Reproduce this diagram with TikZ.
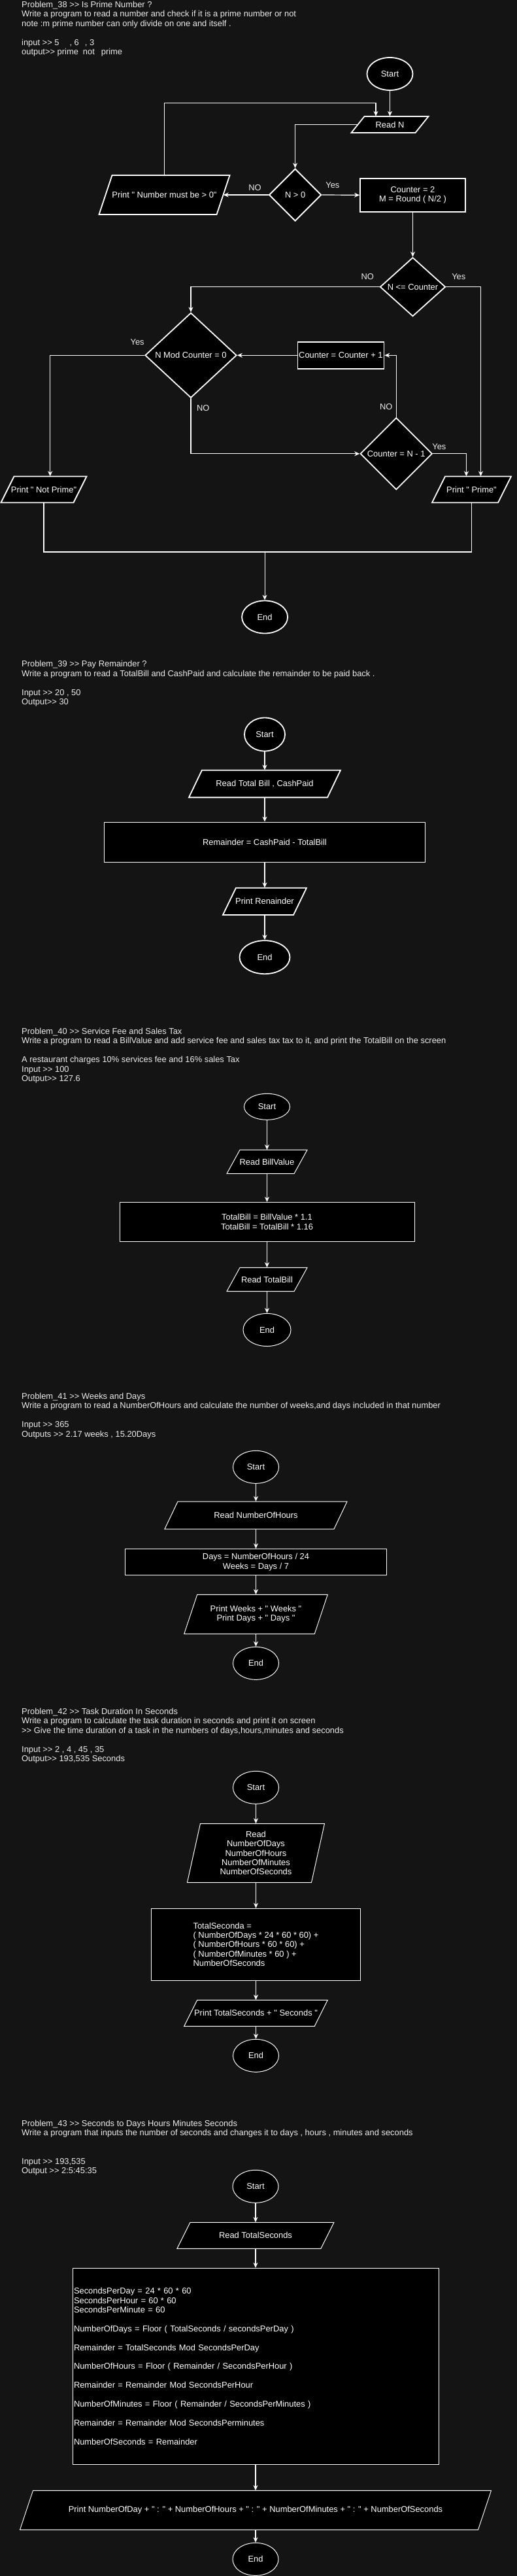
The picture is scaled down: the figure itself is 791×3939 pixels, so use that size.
\documentclass[tikz,border=0pt]{standalone}
\usepackage{fontspec}
\setmainfont{Liberation Sans}[Ligatures=TeXOff]
\usetikzlibrary{shapes.geometric,arrows.meta}

\definecolor{canvas}{RGB}{20,20,20}
\definecolor{ink}{RGB}{236,236,236}

\tikzset{
  outline/.style={line width=1pt},
  term/.style={ellipse, draw=white, fill=black, outline, inner sep=0, text=white},
  proc/.style={rectangle, draw=white, fill=black, outline, inner sep=0, align=center, text=white},
  decision/.style={diamond, draw=white, fill=black, outline, inner sep=0, align=center, text=white},
  iotext/.style={rectangle, inner sep=0, align=center, text=white},
  flow/.style={draw=white, line width=1.2pt, -{Stealth[length=8pt,width=7pt]}},
  link/.style={draw=white, line width=1.2pt},
  lbl/.style={inner sep=0, text=ink},
  note/.style={anchor=north west, inner sep=0, align=left, text=ink}
}

% parallelogram: name, centre x, centre y, width, height, text
\newcommand{\iobox}[6]{%
  \draw[outline, draw=white, fill=black] ({#2-#4/2},{#3+#5/2}) -- ({#2+#4/2-20},{#3+#5/2})
    -- ({#2+#4/2},{#3-#5/2}) -- ({#2-#4/2+20},{#3-#5/2}) -- cycle;
  \node[iotext, minimum width=#4-20, minimum height=#5] (#1) at (#2,#3) {#6};
}

\begin{document}
\begin{tikzpicture}[x=1pt, y=-1pt, every node/.style={font=\fontsize{12.9}{14.4}\selectfont}]
\useasboundingbox (0,0) rectangle (791,3939);
\fill[canvas] (0,0) rectangle (791,3939);

% Problem 38
\begin{scope}[outline/.style={line width=1.8pt}]
\node[note] (txt38) at (33,2) {Problem\_38 >> Is Prime Number ?\\
  Write a program to read a number and check if it is a prime number or not\\
  note :m prime number can only divide on one and itself .\\[14.4pt]
  input >> 5\hspace{16pt}, 6\hspace{9pt}, 3\\
  output>> prime\hspace{7pt}not\hspace{10pt}prime};
\node[term, minimum width=70, minimum height=50] (start38) at (596.5,113) {Start};
\iobox{read38}{596.5}{190.5}{118}{25}{Read N}
\node[decision, minimum width=80, minimum height=80] (chk38) at (451.6,298) {N > 0};
\iobox{err38}{251.5}{298}{200}{60}{Print " Number must be > 0"}
\node[proc, minimum width=161, minimum height=51] (init38) at (631.5,298.3) {Counter = 2\\M = Round ( N/2 )};
\node[decision, minimum width=100, minimum height=90] (loop38) at (631.5,438.7) {N <= Counter};
\node[decision, minimum width=140, minimum height=130] (mod38) at (292,543.3) {N Mod Counter = 0};
\node[proc, minimum width=132, minimum height=41] (inc38) at (521.4,543.3) {Counter = Counter + 1};
\node[decision, minimum width=110, minimum height=110] (last38) at (606.2,693.8) {Counter = N - 1};
\iobox{notp38}{67}{748.5}{131}{40}{Print " Not Prime"}
\iobox{prime38}{721.5}{748.5}{121}{40}{Print " Prime"}
\node[term, minimum width=70, minimum height=50] (end38) at (405.1,943.5) {End};
\coordinate (join38) at (405.1,844);
\end{scope}

\draw[flow] (start38.south) -- (read38.north);
\draw[flow] (read38.west) -| (chk38.north);
\draw[flow] (chk38.west) -- (err38.east);
\draw[flow] (err38.north) -- ++(0,-110) -| ([xshift=-21.5pt]read38.north);
\draw[flow] (chk38.east) -- (init38.west);
\draw[flow] (init38.south) -- (loop38.north);
\draw[flow] (loop38.west) -| (mod38.north);
\draw[flow] (loop38.east) -| ([xshift=14pt]prime38.north);
\draw[flow] (mod38.west) -| ([xshift=9.7pt]notp38.north);
\draw[flow] (mod38.south) |- (last38.west);
\draw[flow] (inc38.west) -- (mod38.east);
\draw[flow] (last38.north) |- (inc38.east);
\draw[flow] (last38.east) -| ([xshift=-8pt]prime38.north);
\draw[link] (notp38.south) |- (join38);
\draw[link] (prime38.south) |- (join38);
\draw[flow] (join38) -- (end38.north);

\node[lbl] (no38a) at ([shift={(-20.6,-10.7)}]chk38.west) {NO};
\node[lbl] (yes38a) at ([shift={(16.4,-15.3)}]chk38.east) {Yes};
\node[lbl] (no38b) at ([shift={(-18.4,-16)}]loop38.west) {NO};
\node[lbl] (yes38b) at ([shift={(19.4,-16)}]loop38.east) {Yes};
\node[lbl] (yes38c) at ([shift={(-11,-20.6)}]mod38.west) {Yes};
\node[lbl] (no38c) at ([shift={(18.8,14.4)}]mod38.south) {NO};
\node[lbl] (no38d) at ([shift={(-15.4,-15.6)}]last38.north) {NO};
\node[lbl] (yes38d) at ([shift={(9.8,-11.1)}]last38.east) {Yes};

% Problem 39
\begin{scope}[outline/.style={line width=1.8pt}]
\node[note] (txt39) at (33,1010.3) {Problem\_39 >> Pay Remainder ?\\
  Write a program to read a TotalBill and CashPaid and calculate the remainder to be paid back .\\[14.4pt]
  Input >> 20 , 50\\
  Output>> 30};
\node[term, minimum width=62, minimum height=51] (start39) at (405,1123) {Start};
\iobox{read39}{405}{1198.5}{232}{41.7}{Read Total Bill , CashPaid}
\node[proc, minimum width=491, minimum height=61] (calc39) at (405,1288) {Remainder = CashPaid - TotalBill};
\iobox{print39}{405}{1378.3}{128}{41.3}{Print Renainder}
\node[term, minimum width=77, minimum height=51] (end39) at (405,1463.7) {End};
\end{scope}

\draw[flow] (start39.south) -- (read39.north);
\draw[flow] (read39.south) -- (calc39.north);
\draw[flow] (calc39.south) -- (print39.north);
\draw[flow] (print39.south) -- (end39.north);

% Problem 40
\node[note] (txt40) at (33,1572) {Problem\_40 >> Service Fee and Sales Tax\\
  Write a program to read a BillValue and add service fee and sales tax tax to it, and print the TotalBill on the screen\\[14.4pt]
  A restaurant charges 10\% services fee and 16\% sales Tax\\
  Input >> 100\\
  Output>> 127.6};
\node[term, minimum width=70, minimum height=40] (start40) at (408.5,1692.3) {Start};
\iobox{read40}{408.5}{1776.5}{123}{36.3}{Read BillValue}
\node[proc, minimum width=451, minimum height=60] (calc40) at (408.5,1868.5) {TotalBill = BillValue * 1.1\\TotalBill = TotalBill * 1.16};
\iobox{out40}{408.5}{1956.5}{123}{36.3}{Read TotalBill}
\node[term, minimum width=73, minimum height=50] (end40) at (408.5,2033.5) {End};

\draw[flow] (start40.south) -- (read40.north);
\draw[flow] (read40.south) -- (calc40.north);
\draw[flow] (calc40.south) -- (out40.north);
\draw[flow] (out40.south) -- (end40.north);

% Problem 41
\node[note] (txt41) at (33,2130) {Problem\_41 >> Weeks and Days\\
  Write a program to read a NumberOfHours and calculate the number of weeks,and days included in that number\\[14.4pt]
  Input >> 365\\
  Outputs >> 2.17 weeks , 15.20Days};
\node[term, minimum width=70, minimum height=50] (start41) at (391.5,2243.3) {Start};
\iobox{read41}{391.5}{2317}{279}{42}{Read NumberOfHours}
\node[proc, minimum width=400, minimum height=40] (calc41) at (391.5,2388.5) {Days = NumberOfHours / 24\\Weeks = Days / 7};
\iobox{print41}{391.5}{2468.3}{219.5}{60}{Print Weeks + " Weeks "\\Print Days + " Days "}
\node[term, minimum width=70, minimum height=50] (end41) at (391.5,2543.3) {End};

\draw[flow] (start41.south) -- (read41.north);
\draw[flow] (read41.south) -- (calc41.north);
\draw[flow] (calc41.south) -- (print41.north);
\draw[flow] (print41.south) -- (end41.north);

% Problem 42
\node[note] (txt42) at (33,2612) {Problem\_42 >> Task Duration In Seconds\\
  Write a program to calculate the task duration in seconds and print it on screen\\
  >> Give the time duration of a task in the numbers of days,hours,minutes and seconds\\[14.4pt]
  Input >> 2 , 4 , 45 , 35\\
  Output>> 193,535 Seconds};
\node[term, minimum width=70, minimum height=50] (start42) at (391.5,2733.3) {Start};
\iobox{read42}{391.5}{2833.5}{210}{90}{Read\\NumberOfDays\\NumberOfHours\\NumberOfMinutes\\NumberOfSeconds}
\node[proc, align=left, minimum width=320, minimum height=110] (calc42) at (391.5,2973.3) {TotalSeconda =\\( NumberOfDays * 24 * 60 * 60) +\\( NumberOfHours * 60 * 60) +\\( NumberOfMinutes * 60 ) +\\NumberOfSeconds};
\iobox{print42}{391.5}{3078.3}{219.5}{40}{Print TotalSeconds + " Seconds "}
\node[term, minimum width=70, minimum height=50] (end42) at (391.5,3143.3) {End};

\draw[flow] (start42.south) -- (read42.north);
\draw[flow] (read42.south) -- (calc42.north);
\draw[flow] (calc42.south) -- (print42.north);
\draw[flow] (print42.south) -- (end42.north);

% Problem 43
\node[note] (txt43) at (33,3242) {Problem\_43 >> Seconds to Days Hours Minutes Seconds\\
  Write a program that inputs the number of seconds and changes it to days , hours , minutes and seconds\\[28.8pt]
  Input >> 193,535\\
  Output >> 2:5:45:35};
\node[term, minimum width=70, minimum height=50] (start43) at (391,3343.3) {Start};
\iobox{read43}{391}{3418.3}{240}{40}{Read TotalSeconds}
\node[proc, align=left, text width=556, minimum width=560, minimum height=300] (calc43) at (391,3618.3) {SecondsPerDay = 24 * 60 * 60\\
  SecondsPerHour = 60 * 60\\
  SecondsPerMinute = 60\\[14.4pt]
  NumberOfDays = Floor ( TotalSeconds / secondsPerDay )\\[14.4pt]
  Remainder = TotalSeconds Mod SecondsPerDay\\[14.4pt]
  NumberOfHours = Floor ( Remainder / SecondsPerHour )\\[14.4pt]
  Remainder = Remainder Mod SecondsPerHour\\[14.4pt]
  NumberOfMinutes = Floor ( Remainder / SecondsPerMinutes )\\[14.4pt]
  Remainder = Remainder Mod SecondsPerminutes\\[14.4pt]
  NumberOfSeconds = Remainder};
\iobox{print43}{391}{3838.3}{721}{60}{Print NumberOfDay + " : " + NumberOfHours + " : " + NumberOfMinutes + " : " + NumberOfSeconds}
\node[term, minimum width=70, minimum height=50] (end43) at (391,3913.3) {End};

\draw[flow] (start43.south) -- (read43.north);
\draw[flow] (read43.south) -- (calc43.north);
\draw[flow] (calc43.south) -- (print43.north);
\draw[flow] (print43.south) -- (end43.north);

\end{tikzpicture}
\end{document}
